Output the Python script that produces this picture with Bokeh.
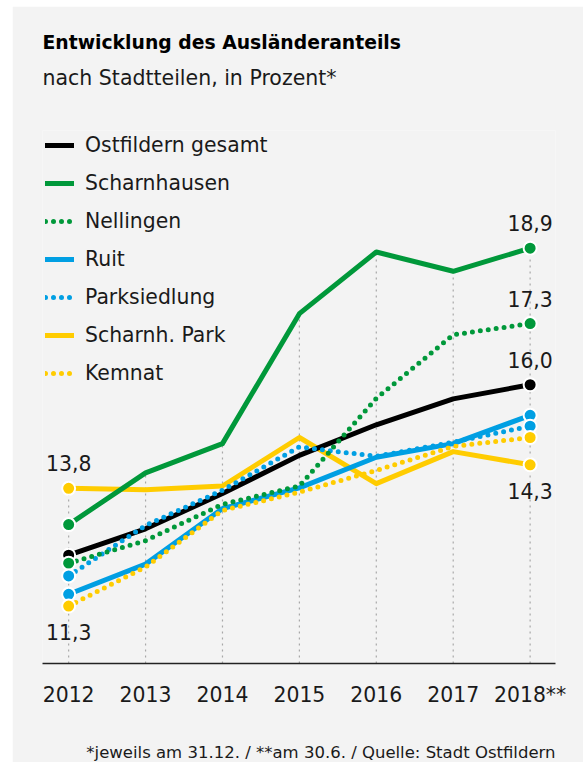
from bokeh.plotting import figure
from bokeh.models import Range1d, Legend, LegendItem, Title, FixedTicker
from bokeh.core.properties import value
from bokeh.embed import file_html
from bokeh.resources import INLINE
import numpy as np

# ---- data ----
years = [2012, 2013, 2014, 2015, 2016, 2017, 2018]
year_labels = ["2012", "2013", "2014", "2015", "2016", "2017", "2018**"]

gesamt = [12.38, 12.94, 13.69, 14.50, 15.15, 15.70, 16.0]
scharnhausen = [13.03, 14.13, 14.75, 17.51, 18.82, 18.41, 18.9]
nellingen = [12.21, 12.69, 13.46, 13.85, 15.71, 17.06, 17.3]
ruit = [11.55, 12.19, 13.37, 13.81, 14.46, 14.75, 15.35]
parksiedlung = [11.94, 13.01, 13.76, 14.68, 14.48, 14.78, 15.12]
scharnh_park = [13.8, 13.77, 13.85, 14.88, 13.90, 14.58, 14.3]
kemnat = [11.3, 12.13, 13.33, 13.72, 14.18, 14.69, 14.88]

names = ["Ostfildern gesamt", "Scharnhausen", "Nellingen", "Ruit",
         "Parksiedlung", "Scharnh. Park", "Kemnat"]

title_text = "Entwicklung des Ausländeranteils"
subtitle_text = "nach Stadtteilen, in Prozent*"
footer_text = "*jeweils am 31.12. / **am 30.6. / Quelle: Stadt Ostfildern"

# ---- style ----
BG = "#f3f3f3"
TXT = "#1a1a1a"
BLACK = "#000000"
GREEN = "#00983a"
BLUE = "#009fe3"
YELLOW = "#ffcc00"
FONT = "DejaVu Sans"

p = figure(width=571, height=756, output_backend="svg", toolbar_location=None,
           x_range=Range1d(2011.66, 2018.33), y_range=Range1d(10.08, 21.40),
           background_fill_color=BG, border_fill_color=BG,
           min_border_left=30, min_border_right=28, min_border_top=124,
           min_border_bottom=99, outline_line_color=None)
p.margin = (6, 0, 0, 12)

p.yaxis.visible = False
p.xgrid.visible = False
p.ygrid.visible = False

ax = p.xaxis[0]
ax.ticker = FixedTicker(ticks=years)
ax.major_label_overrides = {y: l for y, l in zip(years, year_labels)}
ax.major_label_text_font = FONT
ax.major_label_text_font_size = "20.4px"
ax.major_label_text_color = TXT
ax.major_label_standoff = 13
ax.axis_line_color = "#222222"
ax.axis_line_width = 1.5
ax.major_tick_line_color = None
ax.minor_tick_line_color = None

# vertical dotted guides from axis up to the highest value per year
all_series = np.array([gesamt, scharnhausen, nellingen, ruit, parksiedlung, scharnh_park, kemnat])
tops = all_series.max(axis=0)
p.segment(x0=years, y0=[p.y_range.start] * len(years), x1=years, y1=tops,
          line_color="#a8a8a8", line_width=1.2, line_dash="2 4")

solid = dict(line_width=5, line_join="round", line_cap="round")
dotted = dict(line_width=5, line_join="round", line_cap="round", line_dash="0 8")

r_park = p.line(years, scharnh_park, line_color=YELLOW, **solid)
r_ruit = p.line(years, ruit, line_color=BLUE, **solid)
r_sch = p.line(years, scharnhausen, line_color=GREEN, **solid)
r_ges = p.line(years, gesamt, line_color=BLACK, **solid)
r_kem = p.line(years, kemnat, line_color=YELLOW, **dotted)
r_pks = p.line(years, parksiedlung, line_color=BLUE, **dotted)
r_nel = p.line(years, nellingen, line_color=GREEN, **dotted)

ends = [years[0], years[-1]]
for series, col in [(scharnhausen, GREEN), (gesamt, BLACK), (nellingen, GREEN),
                    (scharnh_park, YELLOW), (ruit, BLUE), (parksiedlung, BLUE),
                    (kemnat, YELLOW)]:
    p.scatter(ends, [series[0], series[-1]], size=13, fill_color=col,
              line_color="white", line_width=2)

def fmt(v):
    return f"{v:.1f}".replace(".", ",")

# value labels
above_x = [years[-1], years[-1], years[-1], years[0]]
above_y = [scharnhausen[-1], nellingen[-1], gesamt[-1], scharnh_park[0]]
p.text(above_x, above_y, text=[fmt(v) for v in above_y], text_align="center",
       text_baseline="middle", y_offset=-25, text_font=value(FONT),
       text_font_size="20.4px", text_color=TXT)
below_x = [years[0], years[-1]]
below_y = [kemnat[0], scharnh_park[-1]]
p.text(below_x, below_y, text=[fmt(v) for v in below_y], text_align="center",
       text_baseline="middle", y_offset=26, text_font=value(FONT),
       text_font_size="20.4px", text_color=TXT)

# legend
renderers = [r_ges, r_sch, r_nel, r_ruit, r_pks, r_park, r_kem]
legend = Legend(items=[LegendItem(label=n, renderers=[r]) for n, r in zip(names, renderers)],
                location="top_left", margin=0, padding=3, spacing=14,
                glyph_width=29, glyph_height=24, label_height=24, label_standoff=11,
                label_text_font=FONT, label_text_font_size="20.4px",
                label_text_color=TXT, background_fill_alpha=0, border_line_alpha=0)
p.add_layout(legend)

# title block (innermost first): gap, subtitle, title
p.add_layout(Title(text=" ", text_font=FONT, text_font_size="16px", standoff=20), "above")
p.add_layout(Title(text=subtitle_text, text_font=FONT, text_font_size="20.5px",
                   text_font_style="normal", text_color=TXT, align="left", standoff=0), "above")
p.add_layout(Title(text=title_text, text_font=FONT, text_font_size="18.8px",
                   text_font_style="bold", text_color=BLACK, align="left", standoff=21), "above")

# footer below the axis
p.add_layout(Title(text=" ", text_font=FONT, text_font_size="16px", standoff=10), "below")
p.add_layout(Title(text=footer_text, text_font=FONT, text_font_size="16.5px",
                   text_font_style="normal", text_color=TXT, align="right", standoff=0), "below")

open("out.html", "w").write(file_html(p, INLINE))
